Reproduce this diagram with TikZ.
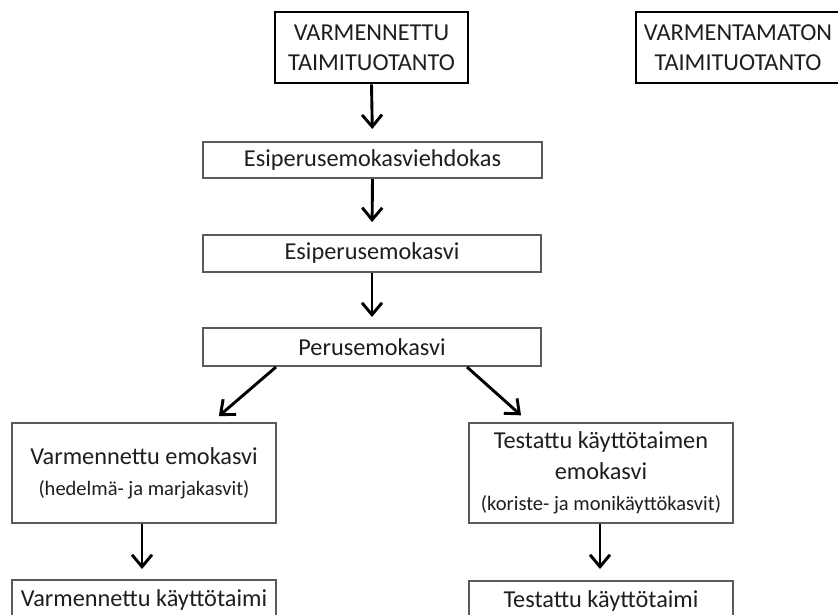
\documentclass[tikz,border=0pt]{standalone}
\usepackage{fontspec}
\setmainfont{Carlito}
\usetikzlibrary{arrows.meta,calc}
\definecolor{boxgray}{HTML}{5A5A5A}
\definecolor{txt}{HTML}{1E1E1E}
\begin{document}
\begin{tikzpicture}[x=1pt,y=-1pt,
  box/.style={draw=boxgray, line width=2pt, inner sep=0pt, align=center, text=txt,
              font=\fontsize{24.3}{31}\selectfont},
  topbox/.style={box, draw=black, line width=2.8pt, font=\fontsize{24.3}{30}\selectfont},
  arr/.style={line width=2.9pt, -{Straight Barb[length=12pt,width=20pt]}}]
\useasboundingbox (0,0) rectangle (838,614);
\fill[white] (0,0) rectangle (838,614);
\clip (0,0) rectangle (838,614);

\node[topbox, minimum width=193pt, minimum height=71pt] (b1) at (371.5,47.5) {VARMENNETTU\\TAIMITUOTANTO};
\node[topbox, minimum width=204pt, minimum height=71pt] (b2) at (738,47.5) {VARMENTAMATON\\TAIMITUOTANTO};

\node[box, minimum width=339pt, minimum height=36pt] (e1) at (372.5,160) {Esiperusemokasviehdokas};
\node[box, minimum width=338pt, minimum height=37pt] (e2) at (372,253.5) {Esiperusemokasvi};
\node[box, minimum width=338pt, minimum height=38pt] (p) at (372,347) {Perusemokasvi};

\node[box, minimum width=264pt, minimum height=100pt] (lm) at (144,473)
  {Varmennettu emokasvi\\\fontsize{20.5}{33}\selectfont (hedelmä- ja marjakasvit)};
\node[box, minimum width=264pt, minimum height=100pt] (rm) at (601,473)
  {Testattu käyttötaimen\\emokasvi\\\fontsize{20.5}{28}\selectfont (koriste- ja monikäyttökasvit)};

\node[box, minimum width=264pt, minimum height=40pt] (lb) at (144,600) {Varmennettu käyttötaimi};
\node[box, minimum width=264pt, minimum height=40pt] (rb) at (601,601) {Testattu käyttötaimi};

\draw[arr, shorten >=12pt] (b1.south) -- (e1.north);
\draw[arr, shorten >=12pt] (e1.south) -- (e2.north);
\draw[arr, shorten >=10pt] (e2.south) -- (p.north);
\draw[arr, shorten >=9pt] ($(p.south west)+(74,0)$) -- ($(lm.north west)+(201,0)$);
\draw[arr, shorten >=10pt] ($(p.south west)+(265,0)$) -- ($(rm.north west)+(60.5,0)$);
\draw[arr, shorten >=10pt] ($(lm.south)+(-2,0)$) -- ($(lb.north)+(-2,0)$);
\draw[arr, shorten >=11pt] ($(rm.south)+(-1,0)$) -- ($(rb.north)+(-1,0)$);
\end{tikzpicture}
\end{document}
